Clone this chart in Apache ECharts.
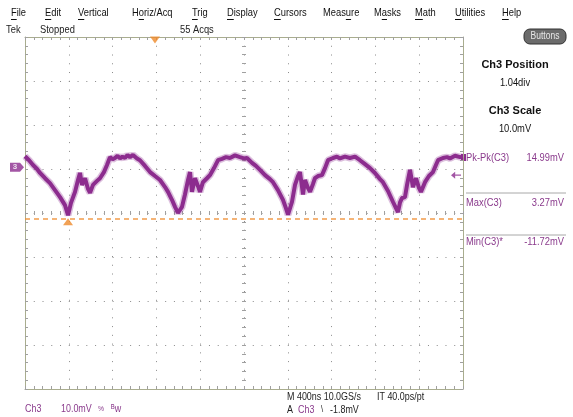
<!DOCTYPE html>
<html><head><meta charset="utf-8">
<script src="https://cdn.jsdelivr.net/npm/echarts@6/dist/echarts.min.js"></script>
<style>html,body{margin:0;padding:0;background:#fff}#c{width:573px;height:417px}</style>
</head><body><div id="c"></div>
<script>
// ---- data (time in ns, Ch3 in mV) ----
const timeNs = [0,37,73,110,137,183,228,274,320,365,393,420,457,484,502,521,548,575,594,621,658,685,721,749,776,800,822,845,868,890,913,936,959,986,1023,1050,1096,1142,1187,1233,1279,1306,1342,1370,1397,1434,1461,1489,1507,1525,1552,1580,1598,1625,1662,1689,1726,1763,1799,1836,1872,1918,1963,2000,2027,2073,2109,2146,2192,2237,2265,2310,2356,2383,2402,2438,2466,2493,2511,2539,2557,2584,2603,2630,2648,2676,2712,2740,2767,2813,2849,2877,2922,2968,3014,3059,3105,3151,3196,3242,3269,3315,3361,3388,3406,3425,3443,3470,3489,3516,3543,3571,3598,3616,3653,3689,3726,3753,3772,3817,3854,3881,3927,3973,4000];
const ch3mV = [2.5,1.6,0.5,-0.4,-1.3,-2.5,-3.6,-5.2,-6.8,-8.6,-10.9,-8.1,-5.6,-2.9,-1.3,-4.0,-2.5,-4.9,-5.8,-4.0,-3.1,-2.5,-1.1,0.5,2.3,1.8,2.1,2.6,2.0,2.4,2.1,2.8,2.3,2.8,2.0,1.6,0.3,-1.1,-2.0,-2.9,-4.5,-5.6,-7.4,-9.0,-10.4,-9.0,-6.2,-2.9,-1.1,-5.6,-2.5,-4.3,-5.6,-3.4,-2.5,-1.8,-0.2,1.6,1.9,2.3,2.1,2.7,2.3,2.0,2.1,1.0,0.3,-0.6,-1.8,-2.7,-3.4,-5.2,-7.4,-9.3,-10.8,-7.9,-4.0,-2.0,-1.1,-6.2,-2.9,-4.7,-5.6,-3.8,-2.5,-2.0,-1.8,-0.2,1.6,2.1,2.4,2.0,2.4,2.1,2.4,1.6,0.7,-0.2,-1.3,-2.7,-3.4,-5.4,-7.9,-9.3,-10.2,-8.0,-7.0,-6.8,-4.0,-0.6,-4.5,-2.5,-4.7,-5.6,-3.4,-2.0,-1.1,0.5,1.6,2.1,2.3,2.0,2.6,2.3,2.4];
const triggerTimeNs = 1187;
const triggerLevelmV = -1.8;
const minCursormV = -11.72;
const minTimeNs = 393;
const ch3PositionDiv = 1.04;
const ch3ScalemV = 10;
const timePerDivNs = 400;
const menuItems = ['File','Edit','Vertical','Horiz/Acq','Trig','Display','Cursors','Measure','Masks','Math','Utilities','Help'];
const menuUnderline = [0,0,0,1,0,0,0,4,1,0,0,0];
const measLabels = ['Pk-Pk(C3)','Max(C3)','Min(C3)*'];
const measValues = ['14.99mV','3.27mV','-11.72mV'];

// ---- layout / style ----
const menuX = [11,45,78,132,192,227,274,323,374,415,455,502];
const SANS = '"Liberation Sans",Arial,sans-serif';
const SQ = 0.85; // horizontal squeeze to mimic a narrow UI font
const PURPLE = '#8c2c8e';
const TXTPURPLE = '#8a3a8c';
const ORANGE = '#ee8a2a';
const BORDER = '#a9ad8e';
const DOT = '#8a8a8a';
const TICK = '#a0a0a0';

const yTop = ch3ScalemV * (4 - ch3PositionDiv);
const yBot = ch3ScalemV * (-4 - ch3PositionDiv);
const series = timeNs.map((t, i) => [t, ch3mV[i]]);

const ctx = document.createElement('canvas').getContext('2d');
ctx.font = '11px ' + SANS;

function gx(extra) {
  return Object.assign({
    type: 'value', min: -5, max: 5, interval: 1,
    axisLabel: {show: false},
    axisLine: {onZero: false, lineStyle: {color: BORDER, width: 1}},
    axisTick: {inside: true, length: 3, lineStyle: {color: TICK}},
    minorTick: {show: true, splitNumber: 5, length: 3, lineStyle: {color: TICK}},
    splitLine: {show: false}
  }, extra);
}
function gy(extra) {
  return Object.assign({
    type: 'value', min: -4, max: 4, interval: 1,
    axisLabel: {show: false},
    axisLine: {onZero: false, lineStyle: {color: BORDER, width: 1}},
    axisTick: {inside: true, length: 3, lineStyle: {color: TICK}},
    minorTick: {show: true, splitNumber: 5, length: 3, lineStyle: {color: TICK}},
    splitLine: {show: false}
  }, extra);
}
const centerTickIn = {inside: true, length: 2, lineStyle: {color: TICK}};
const centerTickOut = {inside: false, length: 2, lineStyle: {color: TICK}};
const centerMinor = {show: true, splitNumber: 5, length: 2, lineStyle: {color: TICK}};

const graphics = [];
function txt(x, y, text, opt, sx) {
  graphics.push({type: 'text', x: x, y: y, scaleX: sx == null ? SQ : sx, silent: true, style: Object.assign({
    text: text, font: '11px ' + SANS, fill: '#222', verticalAlign: 'middle', align: 'left'
  }, opt || {})});
}
menuItems.forEach((m, i) => {
  txt(menuX[i], 13, m, {fill: '#111'});
  const k = menuUnderline[i];
  const x0 = menuX[i] + ctx.measureText(m.slice(0, k)).width * SQ;
  const w = ctx.measureText(m[k]).width * SQ;
  graphics.push({type: 'line', silent: true, shape: {x1: x0, y1: 19.5, x2: x0 + w, y2: 19.5}, style: {stroke: '#111', lineWidth: 1}});
});
txt(6, 30, 'Tek');
txt(40, 30, 'Stopped');
txt(180, 30, '55 Acqs');
graphics.push({type: 'rect', shape: {x: 524, y: 29, width: 42, height: 15, r: 6}, style: {fill: '#6b6b6b', stroke: '#333', lineWidth: 1}, silent: true});
txt(545, 36.5, 'Buttons', {fill: '#e8e8e8', align: 'center', font: '10px ' + SANS});
txt(515, 65, 'Ch3 Position', {font: 'bold 11px ' + SANS, fill: '#111', align: 'center'}, 1);
txt(515, 83, ch3PositionDiv.toFixed(2) + 'div', {align: 'center', fill: '#111'});
txt(515, 111, 'Ch3 Scale', {font: 'bold 11px ' + SANS, fill: '#111', align: 'center'}, 1);
txt(515, 129, ch3ScalemV.toFixed(1) + 'mV', {align: 'center', fill: '#111'});
const measY = [158, 203, 242];
measLabels.forEach((l, i) => {
  txt(466, measY[i], l, {fill: TXTPURPLE});
  txt(564, measY[i], measValues[i], {fill: TXTPURPLE, align: 'right'});
});
[193, 235].forEach(y => graphics.push({type: 'line', silent: true, shape: {x1: 466, y1: y, x2: 566, y2: y}, style: {stroke: '#a8a8a8', lineWidth: 1}}));
graphics.push({type: 'rect', silent: true, shape: {x: 461, y: 154, width: 5, height: 7}, style: {fill: PURPLE}});
const small = '10.5px ' + SANS;
txt(25, 409, 'Ch3', {fill: TXTPURPLE, font: small});
txt(61, 409, '10.0mV', {fill: TXTPURPLE, font: small});
txt(98, 409, '%', {fill: TXTPURPLE, font: '8px ' + SANS});
txt(111, 409, 'ᴮw', {fill: TXTPURPLE, font: small});
txt(287, 397, 'M ' + timePerDivNs + 'ns 10.0GS/s', {font: small});
txt(377, 397, 'IT 40.0ps/pt', {font: small});
txt(287, 410, 'A', {font: small});
txt(298, 410, 'Ch3', {font: small, fill: TXTPURPLE});
txt(321, 410, '\\', {font: '9px ' + SANS});
txt(330, 410, triggerLevelmV.toFixed(1) + 'mV', {font: small});

const chart = echarts.init(document.getElementById('c'), null, {renderer: 'canvas'});
chart.setOption({
  animation: false,
  backgroundColor: '#fff',
  grid: {left: 25, top: 37, width: 438, height: 352, containLabel: false},
  xAxis: [
    gx({position: 'bottom', splitLine: {show: true, lineStyle: {color: DOT, width: 1, type: [1, 7.76]}}}),
    gx({position: 'top'}),
    gx({position: 'bottom', axisLine: {show: false, onZero: true, onZeroAxisIndex: 0}, axisTick: centerTickIn, minorTick: centerMinor}),
    gx({position: 'bottom', axisLine: {show: false, onZero: true, onZeroAxisIndex: 0}, axisTick: centerTickOut, minorTick: centerMinor}),
    {type: 'value', min: 0, max: 10 * timePerDivNs, show: false}
  ],
  yAxis: [
    gy({position: 'left', splitLine: {show: true, lineStyle: {color: DOT, width: 1, type: [1, 7.76]}}}),
    gy({position: 'right'}),
    gy({position: 'left', axisLine: {show: false, onZero: true, onZeroAxisIndex: 0}, axisTick: centerTickIn, minorTick: centerMinor}),
    gy({position: 'left', axisLine: {show: false, onZero: true, onZeroAxisIndex: 0}, axisTick: centerTickOut, minorTick: centerMinor}),
    {type: 'value', min: yBot, max: yTop, show: false}
  ],
  series: [
    {type: 'line', xAxisIndex: 4, yAxisIndex: 4, data: series, showSymbol: false, silent: true,
     lineStyle: {color: PURPLE, width: 7, opacity: 0.3}},
    {type: 'line', xAxisIndex: 4, yAxisIndex: 4, data: series, showSymbol: false, silent: true,
     lineStyle: {color: PURPLE, width: 4},
     markLine: {silent: true, symbol: 'none', label: {show: false},
       lineStyle: {color: ORANGE, type: [5, 4], width: 1.5, opacity: 0.85},
       data: [{yAxis: minCursormV}]}},
    {type: 'scatter', xAxisIndex: 4, yAxisIndex: 4, clip: false, silent: true,
     data: [[triggerTimeNs, yTop]], symbol: 'triangle', symbolRotate: 180, symbolSize: [10, 7], symbolOffset: [0, 3],
     itemStyle: {color: ORANGE}},
    {type: 'scatter', xAxisIndex: 4, yAxisIndex: 4, clip: false, silent: true,
     data: [[minTimeNs, minCursormV]], symbol: 'triangle', symbolSize: [10, 7], symbolOffset: [0, 3],
     itemStyle: {color: ORANGE}},
    {type: 'scatter', xAxisIndex: 4, yAxisIndex: 4, clip: false, silent: true,
     data: [[10 * timePerDivNs, triggerLevelmV]], symbol: 'path://M0,5 L5,0 L5,4 L12,4 L12,6 L5,6 L5,10 Z',
     symbolSize: [10, 7], symbolOffset: [-7, 0], itemStyle: {color: PURPLE}},
    {type: 'scatter', xAxisIndex: 4, yAxisIndex: 4, clip: false, silent: true, z: 5,
     data: [[0, 0]], symbol: 'path://M0,0 L10,0 L14,4 L10,8 L0,8 Z', symbolSize: [14, 9], symbolOffset: [-8, 0],
     itemStyle: {color: PURPLE},
     label: {show: true, formatter: '3', color: '#fff', fontSize: 8, fontWeight: 'bold', fontFamily: SANS, position: 'inside', offset: [-2, 0]}}
  ],
  graphic: graphics
});
</script></body></html>
